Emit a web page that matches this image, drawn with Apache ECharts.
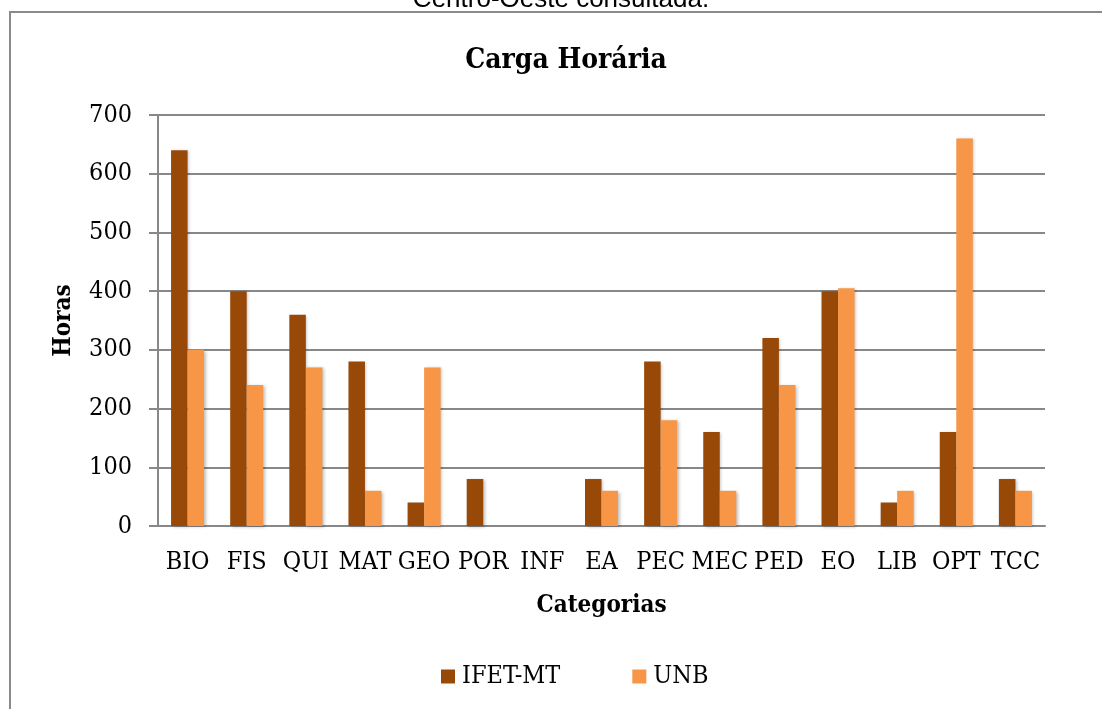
<!DOCTYPE html>
<html>
<head>
<meta charset="utf-8">
<script src="https://cdn.jsdelivr.net/npm/echarts@6/dist/echarts.min.js"></script>
<style>
html,body{margin:0;padding:0;background:#fff;}
#c{width:1102px;height:709px;}
</style>
</head>
<body>
<div id="c"></div>
<script>
const categories = ['BIO','FIS','QUI','MAT','GEO','POR','INF','EA','PEC','MEC','PED','EO','LIB','OPT','TCC'];
const ifetMT = [640, 400, 360, 280, 40, 80, 0, 80, 280, 160, 320, 400, 40, 160, 80];
const unb    = [300, 240, 270, 60, 270, 0, 0, 60, 180, 60, 240, 405, 60, 660, 60];
const yTicks = [0, 100, 200, 300, 400, 500, 600, 700];

const serif = '"DejaVu Serif Condensed", "DejaVu Serif"';
const chart = echarts.init(document.getElementById('c'), null, {renderer: 'canvas'});
const barShadow = {shadowBlur: 3, shadowColor: 'rgba(0,0,0,0.25)', shadowOffsetX: 1.5, shadowOffsetY: 1};

chart.setOption({
  animation: false,
  backgroundColor: '#fff',
  graphic: [
    {type: 'rect', shape: {x: 10, y: 12, width: 1200, height: 800}, style: {fill: 'none', stroke: '#8a8a8a', lineWidth: 2}, silent: true, z: -1},
    {type: 'text', x: 561, y: 13, style: {text: 'Centro-Oeste consultada.', font: '26px "Liberation Sans"', fill: '#000', textAlign: 'center', textVerticalAlign: 'bottom'}}
  ],
  title: {
    text: 'Carga Horária',
    left: 561, top: 42, textAlign: 'center',
    textStyle: {fontFamily: serif, fontWeight: 'bold', fontSize: 28, color: '#000'}
  },
  legend: {
    left: 441, top: 664, padding: 0,
    itemWidth: 14, itemHeight: 14, itemGap: 72,
    icon: 'rect',
    textStyle: {fontFamily: serif, fontSize: 25, color: '#000', padding: [0,0,0,2]},
    data: ['IFET-MT', 'UNB']
  },
  grid: {left: 158, right: 57, top: 115, bottom: 183, containLabel: false},
  xAxis: {
    type: 'category',
    data: categories,
    name: 'Categorias',
    nameLocation: 'middle',
    nameGap: 68,
    nameTextStyle: {fontFamily: serif, fontWeight: 'bold', fontSize: 24, color: '#000'},
    axisLine: {lineStyle: {color: '#888', width: 2}},
    axisTick: {show: false},
    axisLabel: {fontFamily: serif, fontSize: 25, color: '#000', margin: 24, interval: 0}
  },
  yAxis: {
    type: 'value',
    min: 0, max: 700, interval: 100,
    name: 'Horas',
    nameLocation: 'middle',
    nameGap: 82,
    nameRotate: 90,
    nameTextStyle: {fontFamily: serif, fontWeight: 'bold', fontSize: 24, color: '#000'},
    axisLine: {show: true, lineStyle: {color: '#888', width: 2}},
    axisTick: {show: true, length: 9, lineStyle: {color: '#888', width: 2}},
    axisLabel: {fontFamily: serif, fontSize: 25, color: '#000', margin: 26,
      formatter: v => yTicks.indexOf(v) >= 0 ? String(v) : ''},
    splitLine: {lineStyle: {color: '#888', width: 2}}
  },
  series: [
    {name: 'IFET-MT', type: 'bar', data: ifetMT, barWidth: 16.5, barGap: '0%',
     itemStyle: Object.assign({color: '#984807'}, barShadow)},
    {name: 'UNB', type: 'bar', data: unb, barWidth: 16.5, barGap: '0%',
     itemStyle: Object.assign({color: '#F79646'}, barShadow)}
  ]
});
</script>
</body>
</html>
